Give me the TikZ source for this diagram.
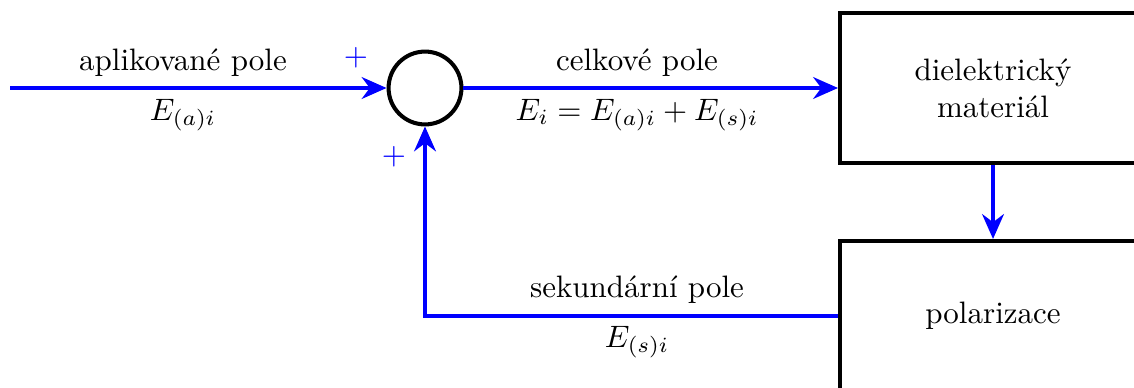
\documentclass[tikz,border=0pt]{standalone}
\usetikzlibrary{arrows.meta}
\begin{document}
\begin{tikzpicture}[x=0.3226pt,y=-0.3226pt,
  blk/.style={draw,line width=1.3pt,minimum width=98.7pt,minimum height=48.4pt,align=center,inner sep=0pt},
  sumnode/.style={draw,line width=1.3pt,circle,minimum size=23.5pt,inner sep=0pt},
  sig/.style={blue,line width=1.3pt,-{Stealth[length=8pt,width=7pt]}},
  lbl/.style={inner sep=0pt},
  plus/.style={text=blue,inner sep=0pt}]
\useasboundingbox (0,0) rectangle (1134,387);
\node[sumnode] (sum) at (425,88) {};
\node[blk] (diel) at (993,88) {dielektrický\\materiál};
\node[blk] (pol) at (993,316) {polarizace};
\coordinate (in) at (10,88);
\coordinate (corner) at (425,316);
\draw[sig] (in) -- (sum.west);
\draw[sig] (sum.east) -- (diel.west);
\draw[sig] (diel.south) -- (pol.north);
\draw[sig] (pol.west |- corner) -- (corner) -- (sum.south);
\node[lbl] (l1) at (183,63) {aplikované pole};
\node[lbl] (l2) at (183,115) {$E_{(a)i}$};
\node[lbl] (l3) at (637,63) {celkové pole};
\node[lbl] (l4) at (637,115) {$E_i=E_{(a)i}+E_{(s)i}$};
\node[lbl] (l5) at (637,290) {sekundární pole};
\node[lbl] (l6) at (637,342) {$E_{(s)i}$};
\node[plus] (p1) at (356,58) {$+$};
\node[plus] (p2) at (394,157) {$+$};
\end{tikzpicture}
\end{document}
